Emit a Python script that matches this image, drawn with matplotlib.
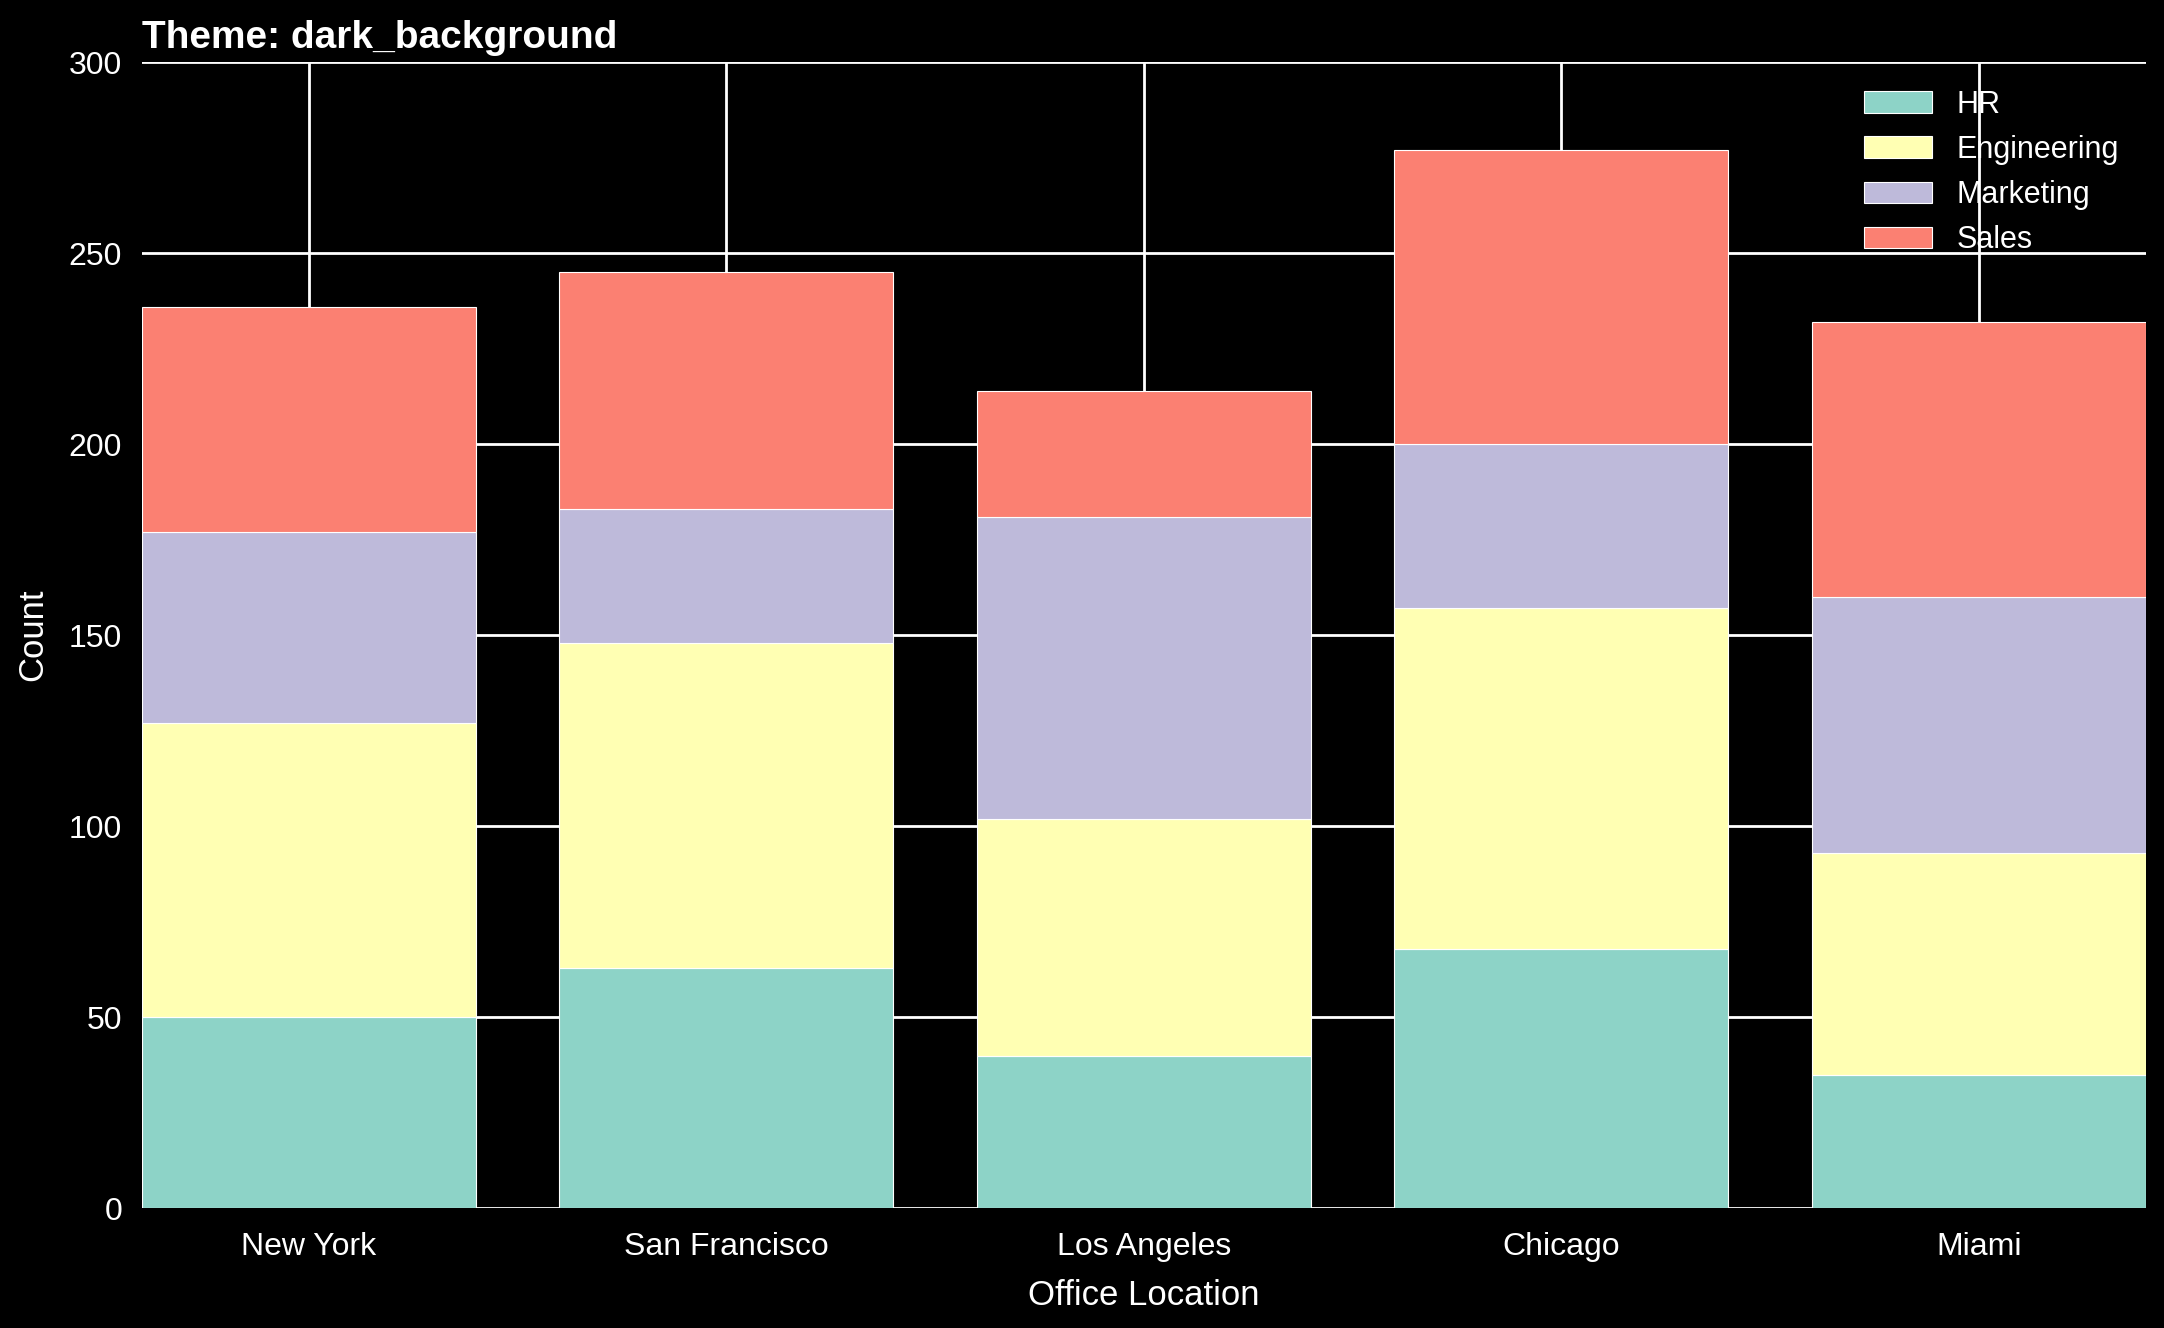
import numpy as np
import matplotlib.pyplot as plt

plt.style.use("dark_background")
plt.rcParams["font.family"] = ["Liberation Sans", "DejaVu Sans"]

# Headcount per office and department
offices = ["New York", "San Francisco", "Los Angeles", "Chicago", "Miami"]
hr = [50, 63, 40, 68, 35]
engineering = [77, 85, 62, 89, 58]
marketing = [50, 35, 79, 43, 67]
sales = [59, 62, 33, 77, 72]

departments = ["HR", "Engineering", "Marketing", "Sales"]
series = [hr, engineering, marketing, sales]
colors = ["#8dd3c7", "#ffffb3", "#bebada", "#fb8072"]

fig = plt.figure(figsize=(10.82, 6.64), dpi=200)
ax = fig.add_axes([0.0654, 0.0901, 0.9263, 0.8632])

x = np.arange(len(offices))
bottom = np.zeros(len(offices))
for name, vals, c in zip(departments, series, colors):
    ax.bar(x, vals, width=0.8, bottom=bottom, color=c, edgecolor="white",
           linewidth=0.4, label=name)
    bottom += np.array(vals)

ax.set_axisbelow(True)
ax.grid(True, color="white", linewidth=1.0)
for s in ax.spines.values():
    s.set_visible(False)
ax.tick_params(axis="y", length=0, labelsize=11.5, pad=7)
ax.tick_params(axis="x", length=0, labelsize=11.5, pad=8.5)

ax.set_xticks(x)
ax.set_xticklabels(offices)
ax.set_xlim(-0.4, 4.4)
ax.set_ylim(0, 300)
ax.set_yticks([0, 50, 100, 150, 200, 250, 300])

ax.set_xlabel("Office Location", fontsize=12.5, labelpad=6)
ax.set_ylabel("Count", fontsize=12.5, labelpad=7)
ax.set_title("Theme: dark_background", loc="left", fontsize=14,
             fontweight="bold", pad=5)
ax.legend(loc="upper right", frameon=False, fontsize=11, handlelength=2.2)

fig.savefig("out.png", dpi=200)
